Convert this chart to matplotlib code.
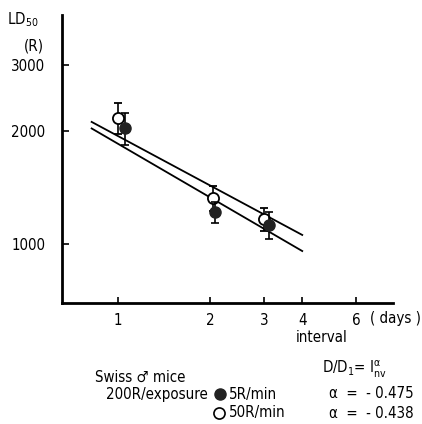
import numpy as np
import matplotlib
matplotlib.use('Agg')
import matplotlib.pyplot as plt

# LD50 vs. interval between exposures (Swiss male mice, 200R/exposure)
days_5r = [1.05, 2.07, 3.11]
ld50_5r = [2040, 1215, 1125]
err_5r = [200, 80, 95]

days_50r = [1.0, 2.04, 3.0]
ld50_50r = [2170, 1325, 1165]
err_50r = [210, 100, 80]

# fitted lines D = D1 * I^alpha
alpha_5r = -0.475
alpha_50r = -0.438
d1_5r = 1850
d1_50r = 1940
fit_range = [0.82, 4.0]

x_ticks = [1, 2, 3, 4, 6]
y_ticks = [1000, 2000, 3000]

plt.rcParams['font.family'] = ['DejaVu Sans']
plt.rcParams['font.stretch'] = 'condensed'
plt.rcParams['mathtext.fontset'] = 'custom'
plt.rcParams['mathtext.rm'] = 'DejaVu Sans:stretch=condensed'
plt.rcParams['mathtext.it'] = 'DejaVu Sans:stretch=condensed'
FS = 10.8

W, H = 422, 424
fig = plt.figure(figsize=(W / 100, H / 100), dpi=100)


def fx(px):
    return px / W


def fy(py):
    return 1 - py / H


ax = fig.add_axes([fx(62), fy(303), fx(393) - fx(62), fy(15) - fy(303)])
ax.set_xscale('log')
ax.set_yscale('log')
ax.set_xlim(0.656, 7.92)
ax.set_ylim(696, 4080)

# fit lines
xs = np.geomspace(fit_range[0], fit_range[1], 50)
ax.plot(xs, d1_50r * xs ** alpha_50r, color='black', lw=1.3)
ax.plot(xs, d1_5r * xs ** alpha_5r, color='black', lw=1.3)

# data points
ax.errorbar(days_50r, ld50_50r, yerr=err_50r, fmt='o', ms=8, mfc='white', mec='black',
            mew=1.3, ecolor='black', elinewidth=1.2, capsize=3, capthick=1.2, zorder=3)
ax.errorbar(days_5r, ld50_5r, yerr=err_5r, fmt='o', ms=8, mfc='#222222', mec='#222222',
            ecolor='black', elinewidth=1.2, capsize=3, capthick=1.2, zorder=4)

for s in ['top', 'right']:
    ax.spines[s].set_visible(False)
for s in ['left', 'bottom']:
    ax.spines[s].set_linewidth(2)

ax.minorticks_off()
ax.set_xticks(x_ticks)
ax.set_xticklabels([str(t) for t in x_ticks])
ax.set_yticks(y_ticks)
ax.set_yticklabels([str(t) for t in y_ticks])
ax.tick_params(axis='x', direction='in', length=4, width=1.2, pad=7, labelsize=FS)
ax.tick_params(axis='y', direction='in', length=5, width=1.2, pad=12, labelsize=FS)

# labels
fig.text(fx(7), fy(20), r'LD$_{50}$', fontsize=FS, ha='left', va='center')
fig.text(fx(34), fy(46), '(R)', fontsize=FS, ha='center', va='center')
fig.text(fx(421), fy(318), '( days )', fontsize=FS, ha='right', va='center')
fig.text(fx(322), fy(338), 'interval', fontsize=FS, ha='center', va='center')

# legend block
fig.text(fx(95), fy(377), 'Swiss \u2642 mice', fontsize=FS, ha='left', va='center')
fig.text(fx(106), fy(394), '200R/exposure', fontsize=FS, ha='left', va='center')
fig.text(fx(229), fy(394), '5R/min', fontsize=FS, ha='left', va='center')
fig.text(fx(229), fy(413), '50R/min', fontsize=FS, ha='left', va='center')
fig.lines.append(plt.Line2D([fx(220)], [fy(394)], marker='o', ms=8, mfc='#222222',
                            mec='#222222', transform=fig.transFigure, figure=fig))
fig.lines.append(plt.Line2D([fx(219)], [fy(413)], marker='o', ms=8, mfc='white',
                            mec='black', mew=1.2, transform=fig.transFigure, figure=fig))

fig.text(fx(322), fy(369), r'D/D$_1$= I$_{\mathrm{nv}}^{\alpha}$', fontsize=FS,
         ha='left', va='center')
fig.text(fx(414), fy(394), '\u03b1  =  - 0.475', fontsize=FS, ha='right', va='center')
fig.text(fx(414), fy(413), '\u03b1  =  - 0.438', fontsize=FS, ha='right', va='center')

fig.savefig('out.png', dpi=100)
